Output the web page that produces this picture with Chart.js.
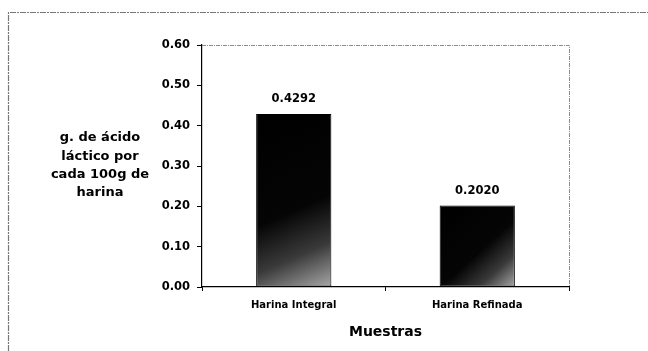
<!DOCTYPE html>
<html>
<head>
<meta charset="utf-8">
<script src="https://cdn.jsdelivr.net/npm/chart.js@4/dist/chart.umd.min.js"></script>
<style>
  html, body { margin: 0; padding: 0; background: #fff; }
  #wrap { width: 648px; height: 351px; position: relative; }
</style>
</head>
<body>
<div id="wrap"><canvas id="c" width="648" height="351"></canvas></div>
<script>
// Lactic acid content per 100 g of flour, by sample
const categories = ['Harina Integral', 'Harina Refinada'];
const acidValues = [0.4292, 0.2020];
const yTicks = [0.00, 0.10, 0.20, 0.30, 0.40, 0.50, 0.60];
const yTitleLines = ['g. de ácido', 'láctico por', 'cada 100g de', 'harina'];
const xTitle = 'Muestras';

const FONT = '"DejaVu Sans", Verdana, sans-serif';
const BAR_PCT = 0.41;

// Dark-to-grey diagonal shading for each bar
function barFill(ctx) {
  const chart = ctx.chart;
  const area = chart.chartArea;
  if (!area || !chart.scales.x || !chart.scales.y) return '#000';
  const xs = chart.scales.x, ys = chart.scales.y;
  const cx = xs.getPixelForValue(ctx.dataIndex);
  const top = ys.getPixelForValue(ctx.raw);
  const bot = ys.getPixelForValue(0);
  const half = (area.width / categories.length) * BAR_PCT / 2;
  const g = chart.ctx.createLinearGradient(cx - half, top, cx + half, bot);
  g.addColorStop(0, '#000');
  g.addColorStop(0.55, '#050505');
  g.addColorStop(0.78, '#3a3a3a');
  g.addColorStop(1, '#a8a8a8');
  return g;
}

const decor = {
  id: 'decor',
  beforeDraw(chart) {
    const c = chart.ctx;
    c.save();
    // outer frame (top and left edges)
    c.strokeStyle = '#777';
    c.lineWidth = 1.2;
    c.setLineDash([6, 1, 2, 1]);
    c.beginPath();
    c.moveTo(8.5, 351);
    c.lineTo(8.5, 12.5);
    c.lineTo(648, 12.5);
    c.stroke();
    c.restore();
  },
  afterDraw(chart) {
    const c = chart.ctx;
    const a = chart.chartArea;
    c.save();
    // plot-area border: top and right
    c.strokeStyle = '#8a8a8a';
    c.lineWidth = 1;
    c.setLineDash([4, 1, 1, 1]);
    c.beginPath();
    c.moveTo(a.left, Math.round(a.top) + 0.5);
    c.lineTo(Math.round(a.right) + 0.5, Math.round(a.top) + 0.5);
    c.lineTo(Math.round(a.right) + 0.5, a.bottom);
    c.stroke();
    c.setLineDash([]);

    // horizontal y-axis title
    c.fillStyle = '#000';
    c.font = 'bold 13px ' + FONT;
    c.textAlign = 'center';
    c.textBaseline = 'middle';
    yTitleLines.forEach((t, i) => c.fillText(t, 100, 138 + i * 18.3));

    // value labels above bars
    c.font = 'bold 11.5px ' + FONT;
    c.textBaseline = 'middle';
    const meta = chart.getDatasetMeta(0);
    meta.data.forEach((bar, i) => {
      c.fillText(acidValues[i].toFixed(4), bar.x, bar.y - 15);
    });
    c.restore();
  }
};

new Chart(document.getElementById('c'), {
  type: 'bar',
  data: {
    labels: categories,
    datasets: [{
      data: acidValues,
      backgroundColor: barFill,
      borderColor: '#000',
      borderWidth: 1,
      borderSkipped: false,
      barPercentage: BAR_PCT,
      categoryPercentage: 1
    }]
  },
  options: {
    responsive: false,
    animation: false,
    devicePixelRatio: 1,
    layout: { padding: { left: 146, right: 79, top: 45, bottom: 10 } },
    plugins: { legend: { display: false }, tooltip: { enabled: false } },
    scales: {
      x: {
        grid: { display: true, drawOnChartArea: false, drawTicks: true, tickLength: 4, color: '#000', offset: true },
        border: { color: '#000', width: 1.2 },
        ticks: { color: '#000', font: { family: FONT, size: 10, weight: 'bold' }, padding: 8 },
        title: { display: true, text: xTitle, color: '#000', font: { family: FONT, size: 14, weight: 'bold' }, padding: { top: 6, bottom: 0 } },
        afterFit(s) { s.height = 54; }
      },
      y: {
        min: 0,
        max: 0.6,
        afterBuildTicks(s) { s.ticks = yTicks.map(v => ({ value: v })); },
        grid: { display: true, drawOnChartArea: false, drawTicks: true, tickLength: 5, color: '#000' },
        border: { color: '#000', width: 1.2 },
        ticks: {
          color: '#000',
          font: { family: FONT, size: 11.5, weight: 'bold' },
          padding: 7,
          callback: v => Number(v).toFixed(2)
        },
        afterFit(s) { s.width = 56; }
      }
    }
  },
  plugins: [decor]
});
</script>
</body>
</html>
